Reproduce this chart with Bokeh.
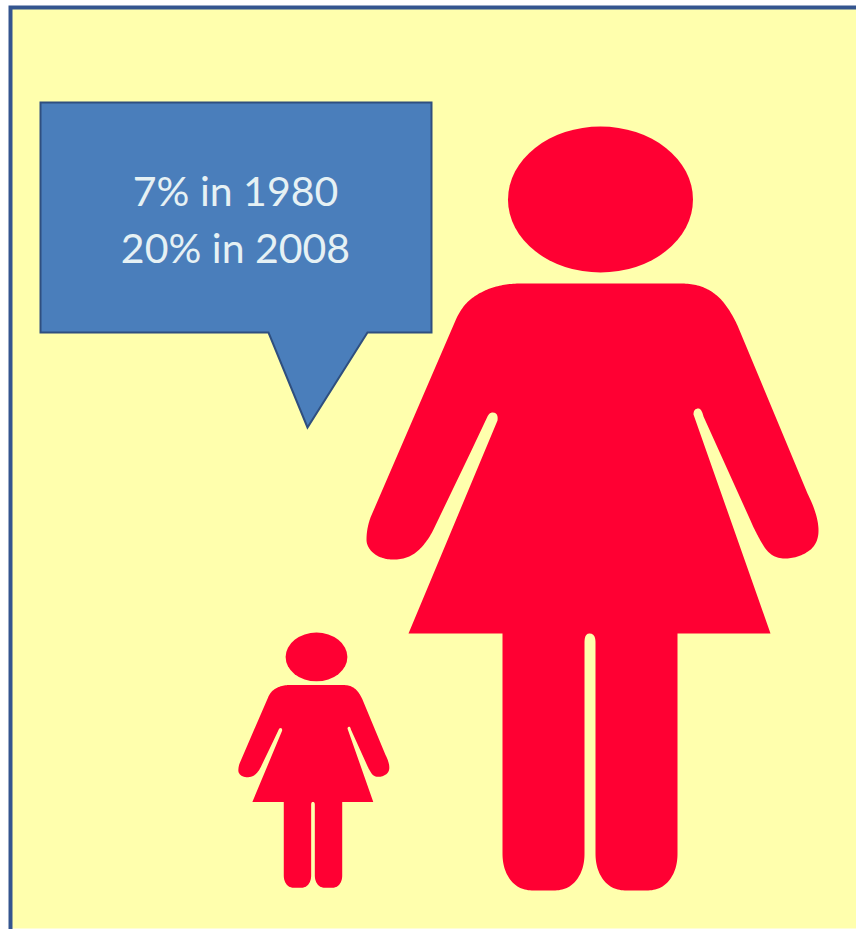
from bokeh.core.properties import value
from bokeh.embed import file_html
from bokeh.models import Range1d
from bokeh.plotting import figure
from bokeh.resources import INLINE

# Callout wording
callout_lines = ["7% in 1980", "20% in 2008"]

# Panel and callout outlines, in page units (y grows downward)
panel_x = [10, 860, 860, 10]
panel_y = [7, 7, 928, 928]
frame_x = [10, 10, 860]
frame_y = [930, 7, 7]
callout_x = [40, 431, 431, 367, 307, 268, 40]
callout_y = [102, 102, 332, 332, 427, 332, 332]

# Woman pictogram: each row is a segment end point and an optional curve control point
body_path = [
    (520, 283, None, None),
    (680, 283, None, None),
    (705.5, 288, 695, 283),
    (723.5, 302.5, 716, 293),
    (737, 325, 731, 312),
    (807, 493, None, None),
    (818, 530, 818, 515),
    (807.5, 551, 818, 544),
    (784, 558, 797, 558),
    (763.5, 546, 771, 558),
    (750, 520, 756, 534),
    (703, 416, None, None),
    (698, 408, 701, 408),
    (693, 414, 693, 408),
    (770, 633, None, None),
    (677, 633, None, None),
    (677, 853, None, None),
    (669, 879.5, 677, 869),
    (646, 890, 661, 890),
    (626, 890, None, None),
    (603, 879.5, 611, 890),
    (595, 853, 595, 869),
    (595, 642, None, None),
    (589, 633, 595, 633),
    (584, 642, 584, 633),
    (584, 853, None, None),
    (576, 879.5, 584, 869),
    (553, 890, 568, 890),
    (533, 890, None, None),
    (510, 879.5, 518, 890),
    (502, 853, 502, 869),
    (502, 633, None, None),
    (408, 633, None, None),
    (497, 420, None, None),
    (492, 412, 498, 412),
    (487, 416, 489, 412),
    (470, 452, None, None),
    (433, 529, None, None),
    (416.5, 551, 426, 543),
    (393, 559, 407, 559),
    (373.5, 553, 381, 559),
    (366, 539, 366, 547),
    (370, 517, 366, 528),
    (455, 320, None, None),
    (470.5, 298.5, 461, 306),
    (492.5, 287, 480, 291),
    (520, 283, 505, 283),
]
head_center_x = 600
head_center_y = 199
head_width = 185
head_height = 146

# Placement of the two pictograms: page offset of the source origin and scale
figure_scale = [1.0, 0.334]
figure_shift_x = [0, 115.6]
figure_shift_y = [0, 590.0]


def flatten(path, steps=16):
    """Turn straight and quadratic segments into a list of polygon vertices."""
    xs, ys = [path[0][0]], [path[0][1]]
    for x, y, cx, cy in path[1:]:
        if cx is None:
            xs.append(x)
            ys.append(y)
            continue
        x0, y0 = xs[-1], ys[-1]
        for i in range(1, steps + 1):
            t = i / steps
            xs.append((1 - t) ** 2 * x0 + 2 * t * (1 - t) * cx + t ** 2 * x)
            ys.append((1 - t) ** 2 * y0 + 2 * t * (1 - t) * cy + t ** 2 * y)
    return xs, ys


p = figure(
    width=856, height=929, output_backend="svg", toolbar_location=None,
    x_range=Range1d(0, 856), y_range=Range1d(929, 0),
    min_border=0, background_fill_color="white", border_fill_color="white",
    outline_line_color=None,
)
p.axis.visible = False
p.grid.visible = False

p.patch(panel_x, panel_y, fill_color="#FFFFAD", line_color=None)
p.line(frame_x, frame_y, line_color="#34558F", line_width=4, line_join="miter")

p.patch(callout_x, callout_y, fill_color="#4A7EBB", line_color="#2F4F7F", line_width=2,
        line_join="miter")
p.text(x=[235, 235], y=[190, 247], text=callout_lines,
       text_font=value("Lato"), text_font_size="41px", text_color="#E6F1F4",
       text_align="center", text_baseline="middle")

body_x, body_y = flatten(body_path)
for scale, dx, dy in zip(figure_scale, figure_shift_x, figure_shift_y):
    p.patch([x * scale + dx for x in body_x], [y * scale + dy for y in body_y],
            fill_color="#FF0033", line_color=None)
    p.ellipse(x=[head_center_x * scale + dx], y=[head_center_y * scale + dy],
              width=[head_width * scale], height=[head_height * scale],
              fill_color="#FF0033", line_color=None)

open("out.html", "w").write(file_html(p, INLINE))
